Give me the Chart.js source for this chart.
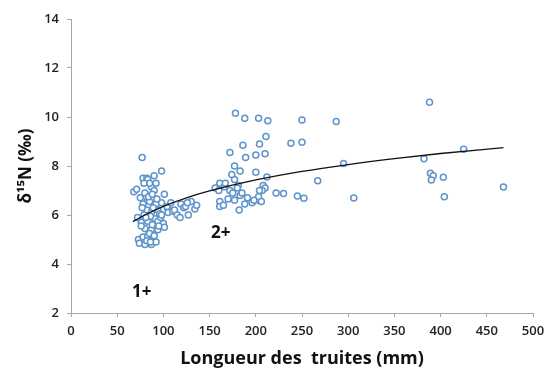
<!DOCTYPE html>
<html>
<head>
<meta charset="utf-8">
<script src="https://cdn.jsdelivr.net/npm/chart.js@4"></script>
<style>
  html, body { margin: 0; padding: 0; background: #fff; }
  #wrap { width: 546px; height: 370px; }
</style>
</head>
<body>
<div id="wrap"><canvas id="chart" width="546" height="370"></canvas></div>
<script>
// Fish length (mm) and delta 15N values
const lengths = [
  68, 71, 77, 78, 82, 83, 90, 98, 80, 87, 90, 101, 83, 85, 92, 98, 75, 78, 82, 87,
  94, 105, 76, 83, 91, 94, 100, 80, 87, 94, 101, 73, 78, 83, 89, 74, 80, 87, 92, 85,
  79, 86, 96, 89, 84, 93, 77, 81, 88, 97, 85, 92, 90, 82, 76, 98, 86, 95, 79, 72, 88,
  105, 110, 112, 115, 119, 122, 124, 127, 130, 134, 104, 108, 118, 126, 136,
  156, 161, 166, 172, 177, 181, 174, 177, 183, 172, 186, 178, 188, 203, 213, 211, 204, 189, 200, 210,
  200, 212, 208, 210, 207, 204, 161, 161, 170, 177, 183, 185, 182, 188, 203, 203, 167, 160, 191, 196,
  198, 180, 175, 206, 165,
  222, 230, 238, 250, 250, 245, 252, 287, 295, 267, 306, 382, 388, 389, 392, 390, 403, 404, 425, 468
];
const d15N = [
  6.95, 7.05, 8.35, 7.5, 7.5, 7.45, 7.6, 7.8, 6.9, 7.15, 7.0, 6.85, 6.6, 6.55, 6.45, 6.5, 6.7, 6.45, 6.2, 6.1,
  6.2, 6.25, 5.7, 5.75, 5.85, 5.75, 5.65, 5.45, 5.4, 5.4, 5.5, 5.0, 5.1, 5.15, 5.05, 4.85, 4.8, 4.8, 4.9, 5.25,
  6.0, 5.95, 6.05, 6.3, 6.75, 6.65, 6.3, 5.9, 5.6, 5.9, 7.3, 7.3, 5.15, 4.95, 5.55, 6.0, 4.9, 5.55, 7.3, 5.9, 6.85,
  6.1, 6.15, 6.2, 6.0, 6.45, 6.3, 6.35, 6.0, 6.55, 6.25, 6.35, 6.5, 5.9, 6.5, 6.4,
  7.1, 7.3, 7.15, 7.0, 7.45, 7.2, 7.65, 8.0, 7.8, 8.55, 8.85, 10.15, 9.95, 9.95, 9.85, 9.2, 8.9, 8.35, 8.45, 8.5,
  7.75, 7.55, 7.2, 7.1, 7.0, 7.0, 6.55, 6.35, 6.65, 6.6, 6.8, 6.9, 6.2, 6.45, 6.6, 6.75, 7.3, 7.0, 6.7, 6.5,
  6.6, 7.1, 6.9, 6.55, 6.4,
  6.9, 6.88, 8.93, 8.97, 9.88, 6.78, 6.68, 9.82, 8.1, 7.4, 6.69, 8.3, 10.6, 7.7, 7.6, 7.43, 7.54, 6.75, 8.68, 7.14
];

// Trend curve
const trendX = [67, 80, 100, 125, 150, 200, 250, 300, 350, 400, 468];
const trendY = [5.73, 6.0, 6.35, 6.7, 6.98, 7.43, 7.78, 8.06, 8.3, 8.51, 8.75];

// Age-class labels
const groupLabels = ['1+', '2+'];
const groupX = [76.5, 162];
const groupY = [2.86, 5.27];

const xTicks = [0, 50, 100, 150, 200, 250, 300, 350, 400, 450, 500];
const yTicks = [2, 4, 6, 8, 10, 12, 14];

const fontFamily = "'Open Sans', 'DejaVu Sans', sans-serif";

const groupLabelPlugin = {
    id: 'groupLabels',
    afterDatasetsDraw(chart) {
        const ctx = chart.ctx;
        const xs = chart.scales.x, ys = chart.scales.y;
        ctx.save();
        ctx.font = 'bold 17px ' + fontFamily;
        ctx.fillStyle = '#111';
        ctx.textAlign = 'center';
        ctx.textBaseline = 'middle';
        groupLabels.forEach((txt, i) => {
            ctx.fillText(txt, xs.getPixelForValue(groupX[i]), ys.getPixelForValue(groupY[i]));
        });
        ctx.restore();
    }
};

new Chart(document.getElementById('chart'), {
    type: 'scatter',
    data: {
        datasets: [{
            label: 'Truites',
            data: lengths.map((x, i) => ({ x: x, y: d15N[i] })),
            pointRadius: 3,
            pointBorderWidth: 1.5,
            pointBorderColor: '#5f94cb',
            pointBackgroundColor: '#ffffff',
            order: 2
        }, {
            label: 'Tendance',
            type: 'line',
            data: trendX.map((x, i) => ({ x: x, y: trendY[i] })),
            borderColor: '#111',
            borderWidth: 1.3,
            pointRadius: 0,
            cubicInterpolationMode: 'monotone',
            fill: false,
            order: 1
        }]
    },
    options: {
        responsive: false,
        animation: false,
        layout: { padding: { left: 0, top: 19, right: 13, bottom: 0 } },
        plugins: {
            legend: { display: false },
            tooltip: { enabled: false }
        },
        scales: {
            x: {
                type: 'linear',
                min: 0,
                max: 500,
                afterBuildTicks: axis => { axis.ticks = xTicks.map(v => ({ value: v })); },
                afterFit: axis => {
                    axis.height = 57;
                    axis.paddingLeft = 0;
                    axis.paddingRight = 0;
                },
                border: { color: '#a6a6a6', width: 1 },
                grid: { drawOnChartArea: false, drawTicks: true, tickLength: 4, color: '#a6a6a6' },
                ticks: { color: '#222', font: { family: fontFamily, size: 13, weight: '600' }, padding: 6, maxRotation: 0 },
                title: {
                    display: true,
                    text: 'Longueur des  truites (mm)',
                    color: '#111',
                    font: { family: fontFamily, size: 18, weight: 'bold' },
                    padding: { top: 3, bottom: 0 }
                }
            },
            y: {
                type: 'linear',
                min: 2,
                max: 14,
                afterBuildTicks: axis => { axis.ticks = yTicks.map(v => ({ value: v })); },
                afterFit: axis => {
                    axis.width = 71;
                    axis.paddingTop = 0;
                    axis.paddingBottom = 0;
                },
                border: { color: '#a6a6a6', width: 1 },
                grid: { drawOnChartArea: false, drawTicks: true, tickLength: 4, color: '#a6a6a6' },
                ticks: { color: '#222', font: { family: fontFamily, size: 13, weight: '600' }, padding: 8 },
                title: {
                    display: true,
                    text: 'δ¹⁵N (‰)',
                    color: '#111',
                    font: { family: fontFamily, size: 17, weight: 'bold' },
                    padding: { top: 16, bottom: 0 }
                }
            }
        }
    },
    plugins: [groupLabelPlugin]
});
</script>
</body>
</html>
